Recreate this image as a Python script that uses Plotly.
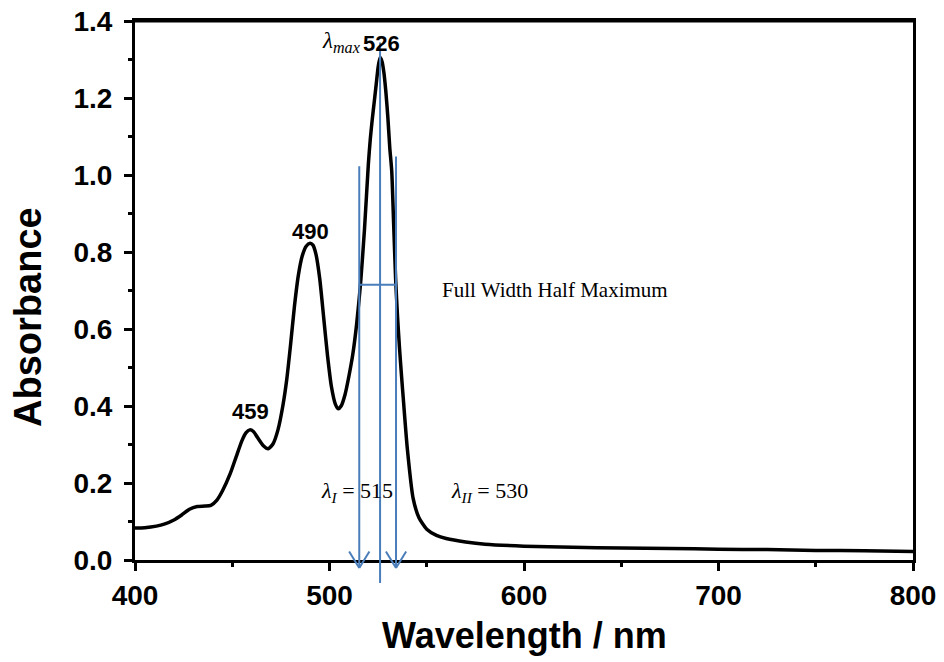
import plotly.graph_objects as go

# ---- data ----
wavelength = [400, 405, 411, 415, 420, 424, 428, 432, 436, 439, 442, 445, 449, 452, 455, 457, 459, 461,
              463, 466, 468.5, 471, 473.5, 476, 478, 480, 482, 484, 486, 488, 490, 491.5, 493, 495,
              497, 499, 501, 503, 504.5, 506, 508, 510, 512, 514, 516, 518, 520, 521, 522, 523, 524,
              525, 526, 527, 528, 529, 530, 531, 532, 533, 534, 535, 536, 537, 538, 540, 543, 546,
              550, 555, 560, 570, 580, 600, 625, 650, 675, 700, 725, 750, 775, 800]
absorbance = [0.083, 0.084, 0.088, 0.093, 0.104, 0.117, 0.132, 0.139, 0.140, 0.142, 0.155, 0.180,
              0.225, 0.268, 0.310, 0.330, 0.338, 0.333, 0.318, 0.297, 0.289, 0.302, 0.338, 0.400,
              0.468, 0.560, 0.660, 0.740, 0.790, 0.815, 0.823, 0.818, 0.795, 0.730, 0.630, 0.530,
              0.450, 0.405, 0.393, 0.400, 0.430, 0.478, 0.535, 0.615, 0.720, 0.860, 1.030, 1.095,
              1.145, 1.190, 1.235, 1.280, 1.305, 1.295, 1.265, 1.215, 1.150, 1.070, 1.010, 0.870,
              0.730, 0.630, 0.550, 0.480, 0.415, 0.290, 0.160, 0.110, 0.080, 0.064, 0.056, 0.047,
              0.041, 0.036, 0.033, 0.031, 0.030, 0.028, 0.027, 0.025, 0.024, 0.022]

peak_labels = ["459", "490"]
peak_x = [459.4, 490]
peak_y = [0.385, 0.853]

lambda_max = 526
lambda_I = 515.3
lambda_II = 534.2
half_level = 0.715
lambda_I_text = 515
lambda_II_text = 530

x_ticks = [400, 500, 600, 700, 800]
y_ticks = [0.0, 0.2, 0.4, 0.6, 0.8, 1.0, 1.2, 1.4]

XMIN, XMAX = 400, 800
YMIN, YMAX = 0.0, 1.4

BLUE = "#4a7ebb"
SANS = "Liberation Sans, Arial, sans-serif"
SERIF = "Liberation Serif, Times New Roman, serif"

def xp(v):
    return (v - XMIN) / (XMAX - XMIN)

def yp(v):
    return (v - YMIN) / (YMAX - YMIN)

fig = go.Figure()
fig.add_trace(go.Scatter(x=wavelength, y=absorbance, mode="lines",
                         line=dict(color="black", width=3.5, shape="spline", smoothing=0.6),
                         showlegend=False, hoverinfo="skip"))

shapes = []
def seg(x0, y0, x1, y1, color=BLUE, width=2):
    shapes.append(dict(type="line", xref="paper", yref="paper",
                       x0=x0, y0=y0, x1=x1, y1=y1,
                       line=dict(color=color, width=width)))

# top frame line (drawn explicitly so it is never lost)
seg(0, 1, 1, 1, color="black", width=3)

# vertical marker lines
tip = -0.021
seg(xp(lambda_I), yp(1.023), xp(lambda_I), yp(tip))
seg(xp(lambda_II), yp(1.048), xp(lambda_II), yp(tip))
seg(xp(lambda_max), yp(1.344), xp(lambda_max), yp(-0.06))
# half maximum line
seg(xp(lambda_I), yp(half_level), xp(lambda_II), yp(half_level))
# open arrow heads
dxa = 5.2   # nm
dya = 0.043 # absorbance
for lx in (lambda_I, lambda_II):
    seg(xp(lx), yp(tip), xp(lx - dxa), yp(tip + dya))
    seg(xp(lx), yp(tip), xp(lx + dxa), yp(tip + dya))

annotations = []
for t, x, y in zip(peak_labels, peak_x, peak_y):
    annotations.append(dict(x=x, y=y, xref="x", yref="y", text=t, showarrow=False,
                            xanchor="center", yanchor="middle",
                            font=dict(family=SANS, size=22, color="black", weight="bold")))
annotations.append(dict(x=526.7, y=1.342, xref="x", yref="y", text="526", showarrow=False,
                        xanchor="center", yanchor="middle",
                        font=dict(family=SANS, size=22, color="black", weight="bold")))
annotations.append(dict(x=517.2, y=1.345, xref="x", yref="y",
                        text="<i>λ</i><sub><i>max</i></sub>", showarrow=False,
                        xanchor="right", yanchor="middle",
                        font=dict(family=SERIF, size=23, color="black")))
annotations.append(dict(x=514.1, y=0.177, xref="x", yref="y",
                        text=f"<i>λ</i><sub><i>I</i></sub> = {lambda_I_text}", showarrow=False,
                        xanchor="center", yanchor="middle",
                        font=dict(family=SERIF, size=22, color="black")))
annotations.append(dict(x=582.5, y=0.177, xref="x", yref="y",
                        text=f"<i>λ</i><sub><i>II</i></sub> = {lambda_II_text}", showarrow=False,
                        xanchor="center", yanchor="middle",
                        font=dict(family=SERIF, size=22, color="black")))
annotations.append(dict(x=556.8, y=0.702, xref="x", yref="y", text="Full Width Half Maximum",
                        showarrow=False, xanchor="left", yanchor="middle",
                        font=dict(family=SERIF, size=21, color="black")))
# axis titles
annotations.append(dict(x=-0.1375, y=0.451, xref="paper", yref="paper", text="Absorbance",
                        showarrow=False, textangle=-90, xanchor="center", yanchor="middle",
                        font=dict(family=SANS, size=38, color="black", weight="bold")))
annotations.append(dict(x=0.5, y=-0.14, xref="paper", yref="paper", text="Wavelength / nm",
                        showarrow=False, xanchor="center", yanchor="middle",
                        font=dict(family=SANS, size=36, color="black", weight="bold")))

axis_common = dict(showline=True, linecolor="black", linewidth=3, mirror=True,
                   ticks="outside", ticklen=8, tickwidth=3, tickcolor="black",
                   showgrid=False, zeroline=False, automargin=False,
                   ticklabeloverflow="allow",
                   tickfont=dict(family=SANS, size=28, color="black", weight="bold"))

# page body adds an 8px offset, compensate in margins
fig.update_layout(
    width=944, height=662,
    margin=dict(l=127, r=39, t=13, b=110, autoexpand=False),
    paper_bgcolor="white", plot_bgcolor="white",
    shapes=shapes, annotations=annotations,
    xaxis=dict(range=[XMIN, XMAX], tickmode="array", tickvals=x_ticks,
               ticktext=[str(v) for v in x_ticks],
               minor=dict(dtick=50, ticks="outside", ticklen=4, tickwidth=3, tickcolor="black"),
               **axis_common),
    yaxis=dict(range=[YMIN, YMAX], tickmode="array", tickvals=y_ticks,
               ticktext=[f"{v:.1f}" for v in y_ticks], ticklabelstandoff=6,
               minor=dict(dtick=0.1, ticks="outside", ticklen=4, tickwidth=3, tickcolor="black"),
               **axis_common),
)

fig.write_html("out.html")
